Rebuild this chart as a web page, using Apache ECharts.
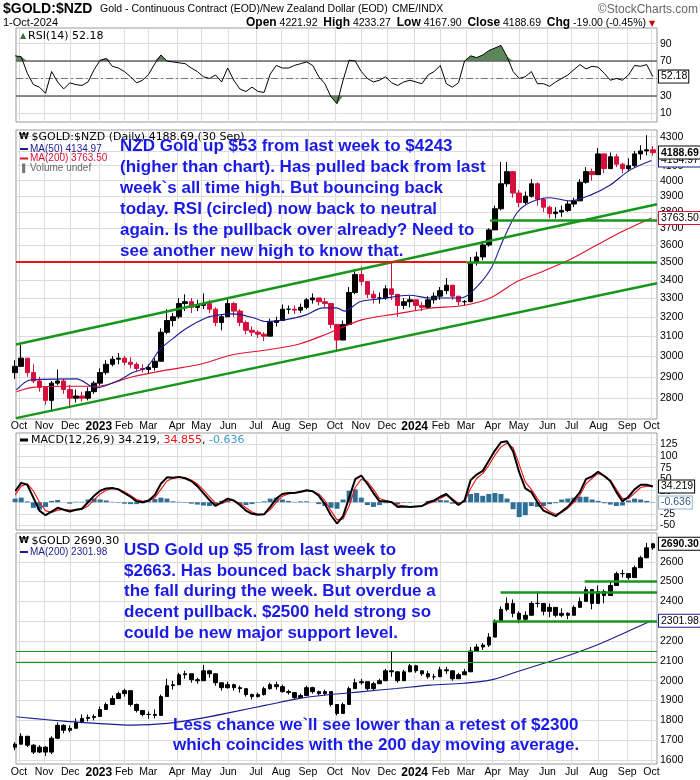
<!DOCTYPE html>
<html>
<head>
<meta charset="utf-8">
<script src="https://cdn.jsdelivr.net/npm/echarts@6.0.0/dist/echarts.min.js"></script>
<style>
html,body{margin:0;padding:0;background:#fff;}
#chart{width:700px;height:780px;}
</style>
</head>
<body>
<div id="chart"></div>
<script>
// ---------------- data ----------------
const xStart = '2022-09-29 12:00';
const xEnd = '2024-10-07 08:00';
const weekStart = '2022-09-28 12:00';   // centre of the first weekly bar
const weekCount = 106;

const monthStarts = ['2022-10-03','2022-11-01','2022-12-01','2023-01-03','2023-02-01','2023-03-01','2023-04-03','2023-05-01','2023-06-01','2023-07-03','2023-08-01','2023-09-01','2023-10-02','2023-11-01','2023-12-01','2024-01-02','2024-02-01','2024-03-01','2024-04-01','2024-05-01','2024-06-03','2024-07-01','2024-08-01','2024-09-03','2024-10-01'];
const monthNames = ['Jan','Feb','Mar','Apr','May','Jun','Jul','Aug','Sep','Oct','Nov','Dec'];

const rsiLabels = [10, 30, 70, 90];
const rsiGridValues = [10, 30, 50, 70, 90];
const nzdTicks = [2800,2900,3000,3100,3200,3300,3400,3500,3600,3700,3800,3900,4000,4100,4200,4300];
const macdTicks = [-50,-25,0,25,50,75,100,125];
const usdTicks = [1600,1700,1800,1900,2000,2100,2200,2300,2400,2500,2600];

const rsi14 = [
 76,75,56,43,40,33,58,46,38,45,
 43,42,46,60,71,73,64,62,58,52,
 45,48,55,67,77,70,69,68,67,62,
 58,52,50,54,46,62,48,38,35,40,
 35,34,55,65,62,62,65,67,69,65,
 52,44,29,21,48,71,70,58,50,46,
 48,52,45,42,46,48,46,44,54,58,
 65,44,40,45,70,76,74,77,82,85,
 88,75,58,50,52,58,44,44,41,46,
 50,54,60,66,61,64,63,56,48,50,
 48,54,65,64,66,52.18];

const nzdFirstOpen = 2920;
const nzdHigh = [
 2980,3055,2990,2960,2900,2850,2880,2935,2890,2860,
 2840,2830,2850,2880,2940,2980,3000,3015,3000,2995,
 2970,2960,2960,2990,3140,3240,3220,3300,3320,3300,
 3290,3325,3290,3250,3210,3305,3280,3240,3180,3150,
 3130,3120,3190,3200,3265,3260,3260,3270,3300,3325,
 3300,3300,3270,3150,3180,3360,3460,3475,3390,3340,
 3330,3370,3495,3310,3300,3310,3290,3280,3310,3330,
 3360,3410,3350,3300,3290,3530,3560,3620,3700,3840,
 4125,4125,3990,3940,3930,4010,3990,3890,3840,3830,
 3840,3870,3890,4010,4090,4080,4220,4170,4190,4180,
 4120,4150,4200,4240,4310,4233.27];
const nzdLow = [
 2890,2960,2900,2870,2830,2770,2740,2860,2820,2755,
 2780,2785,2790,2820,2860,2910,2950,2960,2955,2940,
 2925,2920,2915,2930,2980,3110,3150,3190,3230,3220,
 3230,3240,3220,3150,3130,3200,3200,3150,3110,3100,
 3090,3075,3100,3150,3190,3215,3215,3220,3240,3270,
 3260,3250,3140,3030,3080,3160,3320,3370,3300,3270,
 3270,3290,3290,3200,3240,3250,3230,3230,3240,3270,
 3290,3320,3290,3260,3260,3300,3480,3510,3590,3690,
 3810,3960,3890,3830,3850,3890,3840,3800,3760,3760,
 3770,3800,3830,3870,3980,4000,4040,4050,4080,4090,
 4050,4060,4090,4140,4170,4167.90];
const nzdClose = [
 2950,2990,2920,2880,2850,2790,2870,2880,2840,2800,
 2810,2800,2830,2870,2920,2960,2985,2990,2970,2960,
 2940,2935,2945,2975,3120,3180,3200,3270,3280,3250,
 3260,3270,3240,3170,3200,3270,3230,3170,3130,3120,
 3110,3100,3170,3180,3240,3240,3235,3250,3290,3300,
 3280,3270,3160,3080,3160,3330,3430,3390,3320,3300,
 3300,3350,3320,3260,3280,3290,3260,3250,3290,3310,
 3340,3370,3310,3280,3280,3500,3530,3600,3690,3820,
 3980,4060,3920,3860,3900,3980,3880,3830,3790,3800,
 3810,3850,3870,3990,4060,4040,4180,4080,4160,4110,
 4080,4100,4180,4200,4208,4188.69];

const ma50Dates = ['2022-09-30','2022-10-16','2022-12-08','2022-12-31','2023-01-27','2023-02-11','2023-02-27','2023-03-14','2023-03-30','2023-04-14','2023-05-07','2023-05-22','2023-06-07','2023-06-30','2023-07-15','2023-08-07','2023-08-30','2023-09-18','2023-10-04','2023-10-13','2023-10-31','2023-11-23','2023-12-27','2024-01-19','2024-02-23','2024-03-06','2024-03-29','2024-04-13','2024-04-29','2024-05-14','2024-06-06','2024-06-29','2024-07-22','2024-08-14','2024-09-06','2024-10-01'];
const nzdMa50 = [2838,2885,2890,2848,2885,2920,2945,3031,3090,3140,3195,3210,3215,3195,3175,3185,3210,3247,3247,3230,3280,3295,3315,3300,3300,3325,3455,3630,3795,3860,3890,3870,3905,3970,4070,4134.97];

const ma200Dates = ['2022-09-30','2022-10-19','2022-11-27','2022-12-31','2023-02-11','2023-03-23','2023-04-30','2023-06-07','2023-07-15','2023-08-22','2023-09-22','2023-11-03','2023-12-12','2024-01-20','2024-02-27','2024-03-29','2024-04-29','2024-05-30','2024-06-29','2024-07-30','2024-08-30','2024-10-01'];
const nzdMa200 = [2830,2850,2855,2855,2900,2933,2960,3008,3030,3060,3110,3185,3215,3245,3260,3300,3390,3450,3515,3600,3685,3763.50];
const usdMa200 = [1818,1810,1795,1785,1776,1785,1810,1843,1877,1911,1928,1945,1961,1978,1987,2003,2045,2088,2130,2180,2240,2301.98];

const macdLine = [
 24,42,38,10,-18,-28,-20,-12,-16,-20,
 -16,-14,0,14,25,30,31,28,20,12,
 2,0,4,16,40,54,53,55,52,46,
 35,20,5,-8,0,8,4,-6,-18,-25,
 -27,-26,-10,8,18,20,20,23,26,24,
 14,-4,-28,-46,-30,10,50,58,40,20,
 2,2,0,-10,-9,-10,-9,-8,0,4,
 12,18,5,-6,4,48,60,68,90,112,
 130,132,110,65,30,22,0,-18,-24,-30,
 -20,-10,5,22,50,56,66,57,46,22,
 2,12,28,38,38,34.219];
const macdSignal = [
 16,35,40,25,0,-18,-22,-17,-15,-17,
 -17,-15,-8,5,18,26,30,29,23,15,
 6,2,3,10,28,46,52,54,53,48,
 40,27,12,-2,-3,4,4,-2,-12,-21,
 -26,-26,-16,0,13,18,20,22,25,24,
 18,4,-18,-38,-36,-8,32,50,45,28,
 8,4,1,-6,-8,-9,-9,-8,-3,2,
 8,15,8,-2,1,30,52,62,80,102,
 120,128,118,82,44,28,8,-10,-20,-26,
 -22,-13,0,15,40,52,62,58,48,28,
 8,8,20,32,35,34.855];
const macdHist = [
 8,10,2,-12,-16,-10,3,5,0,-3,
 1,1,6,8,6,4,1,-1,-3,-4,
 -4,-2,2,7,10,8,2,1,-1,-3,
 -5,-7,-8,-6,3,4,0,-4,-6,-4,
 -1,2,8,10,6,3,1,2,2,0,
 -4,-8,-12,-14,6,25,28,10,-6,-10,
 -6,-2,-1,-4,-1,-1,0,0,3,3,
 5,4,-3,-5,4,18,20,14,18,20,
 18,8,-15,-32,-28,-8,-10,-8,-4,-2,
 6,8,10,12,12,6,3,-2,-5,-8,
 -7,4,8,6,3,-0.636];

const usdFirstOpen = 1665;
const usdHigh = [
 1690,1735,1715,1680,1675,1670,1720,1790,1780,1775,
 1810,1830,1830,1830,1870,1890,1925,1945,1960,1950,
 1885,1850,1845,1855,1930,2010,2000,2040,2050,2025,
 2015,2080,2055,2020,1990,1995,1985,1975,1960,1935,
 1940,1970,1990,1995,1980,1955,1935,1935,1975,1970,
 1950,1955,1940,1870,1890,1970,2010,2010,1995,1995,
 2010,2060,2150,2040,2055,2085,2080,2050,2050,2035,
 2070,2070,2040,2040,2060,2170,2185,2190,2240,2310,
 2375,2420,2410,2350,2350,2400,2450,2370,2390,2360,
 2365,2345,2380,2420,2475,2440,2480,2460,2500,2550,
 2560,2540,2580,2630,2695,2695];
const usdLow = [
 1650,1690,1665,1630,1635,1620,1630,1705,1735,1740,
 1765,1785,1795,1800,1825,1855,1880,1915,1920,1870,
 1840,1820,1808,1810,1830,1935,1955,1985,2010,1990,
 1985,2005,2015,1975,1950,1960,1950,1940,1920,1905,
 1915,1925,1955,1955,1940,1930,1905,1910,1935,1935,
 1925,1925,1870,1825,1845,1880,1960,1980,1950,1950,
 1985,2005,2020,1990,2020,2045,2040,2025,2010,2005,
 2030,2035,2000,2010,2035,2080,2150,2155,2170,2240,
 2300,2350,2320,2290,2300,2340,2370,2330,2320,2320,
 2320,2310,2330,2370,2400,2360,2390,2390,2430,2490,
 2520,2510,2530,2570,2630,2660];
const usdClose = [
 1680,1720,1675,1640,1665,1640,1710,1775,1750,1760,
 1790,1810,1815,1820,1855,1880,1910,1935,1950,1880,
 1850,1830,1830,1825,1920,1975,1980,2030,2035,2005,
 2000,2050,2035,1990,1965,1980,1965,1960,1930,1920,
 1930,1960,1980,1970,1945,1940,1915,1925,1965,1945,
 1935,1945,1880,1835,1880,1960,1990,1995,1960,1985,
 2000,2050,2045,2000,2045,2075,2050,2035,2020,2020,
 2055,2050,2010,2030,2045,2150,2170,2180,2220,2300,
 2360,2390,2340,2310,2330,2390,2390,2350,2370,2330,
 2340,2330,2370,2400,2460,2390,2450,2430,2480,2540,
 2540,2520,2570,2620,2670,2690.30];

// hand-drawn annotation lines (date, value)
const nzdTrendLines = [
  [[xStart, 3058], [xEnd, 3849]],
  [[xStart, 2710], [xEnd, 3381]]
];
const nzdLevels = [
  {from: xStart, to: '2024-03-02', value: 3500, color: '#ee1111', width: 2},
  {from: '2024-03-02', to: xEnd, value: 3500, color: '#16961a', width: 2.5},
  {from: '2024-03-29', to: xEnd, value: 3748, color: '#16961a', width: 2.5}
];
const usdLevels = [
  {from: xStart, to: xEnd, value: 2147, color: '#16961a', width: 1},
  {from: xStart, to: xEnd, value: 2095, color: '#16961a', width: 1},
  {from: '2024-04-01', to: xEnd, value: 2298, color: '#16961a', width: 2.5},
  {from: '2024-04-10', to: xEnd, value: 2445, color: '#16961a', width: 2.5},
  {from: '2024-07-16', to: xEnd, value: 2500, color: '#16961a', width: 2.5}
];

const noteNzd = [
  'NZD Gold up $53 from last week to $4243',
  '(higher than chart). Has pulled back from last',
  'week`s all time high. But bouncing back',
  'today. RSI (circled) now back to neutral',
  'again. Is the pullback over already? Need to',
  'see another new high to know that.'
];
const noteUsd = [
  'USD Gold up $5 from last week to',
  '$2663. Has bounced back sharply from',
  'the fall during the week. But overdue a',
  'decent pullback. $2500 held strong so',
  'could be new major support level.'
];
const noteBottom = [
  'Less chance we`ll see lower than a retest of $2300',
  'which coincides with the 200 day moving average.'
];

// ---------------- build ----------------
function parseTime(s) {
  const parts = s.split(' ');
  const d = parts[0].split('-').map(Number);
  const t = parts[1] ? parts[1].split(':').map(Number) : [0, 0];
  return new Date(d[0], d[1] - 1, d[2], t[0], t[1]).getTime();
}
const weekTimes = [];
for (let i = 0; i < weekCount; i++) {
  const d = new Date(parseTime(weekStart));
  d.setDate(d.getDate() + 7 * i);
  weekTimes.push(d.getTime());
}
[['rsi14', rsi14], ['nzdHigh', nzdHigh], ['nzdLow', nzdLow], ['nzdClose', nzdClose], ['macdLine', macdLine], ['macdSignal', macdSignal], ['macdHist', macdHist], ['usdHigh', usdHigh], ['usdLow', usdLow], ['usdClose', usdClose]].forEach(function (p) {
  if (p[1].length !== weekCount) throw new Error(p[0] + ' length ' + p[1].length);
});
if (nzdMa50.length !== ma50Dates.length) throw new Error('ma50');
if (nzdMa200.length !== ma200Dates.length || usdMa200.length !== ma200Dates.length) throw new Error('ma200');

const pairs = (times, vals) => vals.map((v, i) => [times[i], v]);
const last = a => a[a.length - 1];
const T0 = parseTime(xStart), T1 = parseTime(xEnd);
const tp = s => (s === xStart ? T0 : s === xEnd ? T1 : parseTime(s));

const nzdCandles = weekTimes.map((t, i) => [t, i ? nzdClose[i - 1] : nzdFirstOpen, nzdClose[i], nzdLow[i], nzdHigh[i]]);
const usdCandles = weekTimes.map((t, i) => [t, i ? usdClose[i - 1] : usdFirstOpen, usdClose[i], usdLow[i], usdHigh[i]]);
const monthTimes = monthStarts.map(parseTime);

const FONT = '"Liberation Sans", Arial, sans-serif';
const VFONT = '"DejaVu Sans", Verdana, sans-serif';
const GRID_LINE = '#dcdcdc';

function monthLabel(v) {
  const d = new Date(v);
  const m = d.getMonth();
  return m === 0 ? '{yr|' + d.getFullYear() + '}' : monthNames[m];
}

const gridDefs = [
  {top: 28, height: 94},
  {top: 130, height: 289},
  {top: 433, height: 97},
  {top: 533, height: 231}
];
const grids = gridDefs.map(g => Object.assign({
  left: 16, right: 43, show: true, borderColor: '#9a9a9a', borderWidth: 1,
  backgroundColor: 'transparent', containLabel: false, outerBoundsMode: 'none'
}, g));

// x axes: numeric time (ms), month-start ticks
const xAxes = [0, 1, 2, 3].map(i => ({
  type: 'value', gridIndex: i, min: T0, max: T1, scale: true,
  axisLine: {show: false},
  axisTick: {show: false, customValues: monthTimes},
  splitLine: {show: true, lineStyle: {color: GRID_LINE, width: 1}},
  axisLabel: (i === 1 || i === 3) ? {
    show: true, customValues: monthTimes, hideOverlap: false, formatter: monthLabel,
    color: '#000', fontFamily: FONT, fontSize: 10.5, margin: i === 1 ? 2 : 3,
    rich: {yr: {fontWeight: 'bold', fontSize: 12, fontFamily: FONT, color: '#000'}}
  } : {show: false}
}));

const yLabel = {color: '#000', fontFamily: FONT, fontSize: 10.5, margin: 3, formatter: v => String(Math.round(v))};
function yAxis(idx, type, min, max, labels, ticks) {
  const a = {
    type: type, gridIndex: idx, position: 'right', min: min, max: max,
    axisLine: {show: false},
    axisTick: {show: false, customValues: ticks},
    splitLine: {show: true, lineStyle: {color: GRID_LINE, width: 1}},
    axisLabel: Object.assign({customValues: labels}, yLabel)
  };
  if (type === 'log') a.logBase = 10;
  return a;
}
const yAxes = [
  yAxis(0, 'value', 0, 108, rsiLabels, rsiGridValues),
  yAxis(1, 'log', 2706, 4347, nzdTicks, nzdTicks),
  yAxis(2, 'value', -60, 150, macdTicks, macdTicks),
  yAxis(3, 'value', 1580, 2745, usdTicks, usdTicks)
];

function box(value, text, border, opt) {
  opt = opt || {};
  return {
    yAxis: value,
    lineStyle: {width: 1, color: 'rgba(0,0,0,0)', opacity: 1},
    label: {
      show: true, position: 'end', distance: 2, formatter: text,
      color: opt.color || '#000', fontFamily: FONT, fontSize: 10.5,
      fontWeight: opt.bold ? 'bold' : 'normal', opacity: 1, lineHeight: 12,
      backgroundColor: '#fff', borderColor: border, borderWidth: 1, padding: [0, 1, 0, 2]
    }
  };
}
function seg(from, to, v0, v1, color, width) {
  const ls = {color: color, width: width, type: 'solid', opacity: 1};
  return [{coord: [tp(from), v0], lineStyle: ls}, {coord: [tp(to), v1], lineStyle: ls}];
}
function hline(value, color, width, type) {
  return {yAxis: value, lineStyle: {color: color, width: width, type: type || 'solid', opacity: 1}, label: {show: false}};
}
const mlBase = {silent: true, symbol: ['none', 'none'], animation: false, label: {show: false}, emphasis: {disabled: true}};

const lineBase = {type: 'line', showSymbol: false, symbol: 'none', animation: false, silent: true};
const RSI_FILL = '#5b875b';

const series = [
  // RSI panel
  Object.assign({}, lineBase, {xAxisIndex: 0, yAxisIndex: 0, data: weekTimes.map((t, i) => [t, Math.max(rsi14[i], 70)]),
    lineStyle: {opacity: 0, width: 0}, areaStyle: {color: RSI_FILL, opacity: 1, origin: 70}}),
  Object.assign({}, lineBase, {xAxisIndex: 0, yAxisIndex: 0, data: weekTimes.map((t, i) => [t, Math.min(rsi14[i], 30)]),
    lineStyle: {opacity: 0, width: 0}, areaStyle: {color: RSI_FILL, opacity: 1, origin: 30}}),
  Object.assign({}, lineBase, {
    xAxisIndex: 0, yAxisIndex: 0, data: pairs(weekTimes, rsi14), lineStyle: {color: '#000', width: 1}, z: 5,
    markLine: Object.assign({}, mlBase, {data: [
      hline(70, '#666', 1.5), hline(30, '#666', 1.5), hline(50, '#777', 1, [7, 3, 2, 3]),
      box(last(rsi14), last(rsi14).toFixed(2), '#000')
    ]})
  }),
  // NZD price panel (moving averages first so the close box sits on top)
  Object.assign({}, lineBase, {
    xAxisIndex: 1, yAxisIndex: 1, data: pairs(ma200Dates.map(parseTime), nzdMa200), smooth: 0.3,
    lineStyle: {color: '#e01030', width: 1.1}, z: 4,
    markLine: Object.assign({}, mlBase, {data: [box(last(nzdMa200), last(nzdMa200).toFixed(2), '#e01030')]})
  }),
  Object.assign({}, lineBase, {
    xAxisIndex: 1, yAxisIndex: 1, data: pairs(ma50Dates.map(parseTime), nzdMa50), smooth: 0.3,
    lineStyle: {color: '#1c1c90', width: 1.1}, z: 4,
    markLine: Object.assign({}, mlBase, {data: [box(last(nzdMa50), last(nzdMa50).toFixed(2), '#1c1c90')]})
  }),
  {
    type: 'candlestick', xAxisIndex: 1, yAxisIndex: 1, data: nzdCandles, barWidth: 5, silent: true, animation: false,
    itemStyle: {color: '#000', color0: '#d40f3c', borderColor: '#000', borderColor0: '#d40f3c', borderWidth: 1},
    markLine: Object.assign({}, mlBase, {data: [].concat(
      nzdTrendLines.map(l => seg(l[0][0], l[1][0], l[0][1], l[1][1], '#16961a', 2.5)),
      nzdLevels.map(l => seg(l.from, l.to, l.value, l.value, l.color, l.width)),
      [box(last(nzdClose), last(nzdClose).toFixed(2), '#000', {bold: true})]
    )})
  },
  // MACD panel
  {
    type: 'bar', xAxisIndex: 2, yAxisIndex: 2, data: pairs(weekTimes, macdHist), barWidth: 5, silent: true, animation: false,
    itemStyle: {color: '#2d6f97'},
    markLine: Object.assign({}, mlBase, {data: [box(last(macdHist), last(macdHist).toFixed(3), '#8fb3d6', {color: '#33577a'})]})
  },
  Object.assign({}, lineBase, {
    xAxisIndex: 2, yAxisIndex: 2, data: pairs(weekTimes, macdSignal), lineStyle: {color: '#ee1111', width: 1.1}, z: 4
  }),
  Object.assign({}, lineBase, {
    xAxisIndex: 2, yAxisIndex: 2, data: pairs(weekTimes, macdLine), lineStyle: {color: '#000', width: 2}, z: 5,
    markLine: Object.assign({}, mlBase, {data: [box(last(macdLine), last(macdLine).toFixed(3), '#000')]})
  }),
  // USD price panel
  Object.assign({}, lineBase, {
    xAxisIndex: 3, yAxisIndex: 3, data: pairs(ma200Dates.map(parseTime), usdMa200), smooth: 0.3,
    lineStyle: {color: '#1c1c90', width: 1.1}, z: 4,
    markLine: Object.assign({}, mlBase, {data: [box(last(usdMa200), last(usdMa200).toFixed(2), '#1c1c90')]})
  }),
  {
    type: 'candlestick', xAxisIndex: 3, yAxisIndex: 3, data: usdCandles, barWidth: 4, silent: true, animation: false,
    itemStyle: {color: '#000', color0: '#000', borderColor: '#000', borderColor0: '#000', borderWidth: 1},
    markLine: Object.assign({}, mlBase, {data: [].concat(
      usdLevels.map(l => seg(l.from, l.to, l.value, l.value, l.color, l.width)),
      [box(last(usdClose), last(usdClose).toFixed(2), '#000', {bold: true})]
    )})
  }
];

// ---------------- texts ----------------
function txt(x, y, text, font, fill, align, extra) {
  return {
    type: 'text', x: x, y: y, silent: true, z: 100,
    style: Object.assign({text: text, font: font, fill: fill || '#000', align: align || 'left', verticalAlign: 'middle'}, extra || {})
  };
}
function rect(x, y, w, h, fill) {
  return {type: 'rect', silent: true, z: 100, shape: {x: x, y: y, width: w, height: h}, style: {fill: fill}};
}
const BLUE = '#1a1ae6';
const NOTE_FONT = 'bold 17px ' + FONT;
const graphics = [
  txt(3, 9, '$GOLD:$NZD', 'bold 14px ' + FONT),
  txt(100, 9.5, 'Gold - Continuous Contract (EOD)/New Zealand Dollar (EOD)', '10.5px ' + FONT),
  txt(392, 9.5, 'CME/INDX', '10.5px ' + FONT),
  txt(698, 9.5, '\u00A9StockCharts.com', '12px ' + FONT, '#666', 'right'),
  txt(3, 23, '1-Oct-2024', '11px ' + FONT),
  txt(646, 23, '{b|Open} 4221.92  {b|High} 4233.27  {b|Low} 4167.90  {b|Close} 4188.69  {b|Chg} -19.00 (-0.45%)', '10.5px ' + FONT, '#000', 'right',
      {rich: {b: {font: 'bold 12px ' + FONT, fill: '#000'}}}),
  txt(652, 23.5, '\u25BC', '8px ' + VFONT, '#cc0000', 'center'),

  txt(20, 36, '\u25B2', '8px ' + VFONT, '#3f6f3f'),
  txt(28, 36, 'RSI(14) 52.18', '11px ' + VFONT),

  txt(19, 136.7, '\u20A9', 'bold 9px ' + VFONT),
  txt(31.5, 136.7, '$GOLD:$NZD (Daily) 4188.69 (30 Sep)', '11px ' + VFONT),
  rect(20, 148, 8, 2, '#1c1c90'),
  txt(30, 149, 'MA(50) 4134.97', '10px ' + FONT, '#1c1c90'),
  rect(20, 157.5, 8, 2, '#e01030'),
  txt(30, 158.5, 'MA(200) 3763.50', '10px ' + FONT, '#e01030'),
  txt(19, 168.5, '\u2590', '8px ' + VFONT, '#777'),
  txt(30, 168.5, 'Volume undef', '10px ' + FONT, '#666'),

  rect(20, 438.5, 8, 3, '#000'),
  txt(31, 440, '{k|MACD(12,26,9) 34.219, }{r|34.855}{k|, }{b|-0.636}', '11px ' + VFONT, '#000', 'left',
      {rich: {k: {fill: '#000', font: '11px ' + VFONT}, r: {fill: '#ee1111', font: '11px ' + VFONT}, b: {fill: '#3d9ad6', font: '11px ' + VFONT}}}),

  txt(19, 540.7, '\u20A9', 'bold 9px ' + VFONT),
  txt(31.5, 540.7, '$GOLD 2690.30', '11px ' + VFONT),
  rect(20, 551, 8, 2, '#1c1c90'),
  txt(30, 552, 'MA(200) 2301.98', '10px ' + FONT, '#1c1c90')
];
noteNzd.forEach((s, i) => graphics.push(txt(120, 146.7 + 21 * i, s, NOTE_FONT, BLUE)));
noteUsd.forEach((s, i) => graphics.push(txt(124, 550 + 20.9 * i, s, NOTE_FONT, BLUE)));
noteBottom.forEach((s, i) => graphics.push(txt(173, 725 + 20.8 * i, s, NOTE_FONT, BLUE)));

const chart = echarts.init(document.getElementById('chart'), null, {renderer: 'canvas', width: 700, height: 780});
chart.setOption({
  animation: false,
  backgroundColor: '#fff',
  textStyle: {fontFamily: FONT},
  grid: grids,
  xAxis: xAxes,
  yAxis: yAxes,
  series: series,
  graphic: graphics
});
</script>
</body>
</html>
